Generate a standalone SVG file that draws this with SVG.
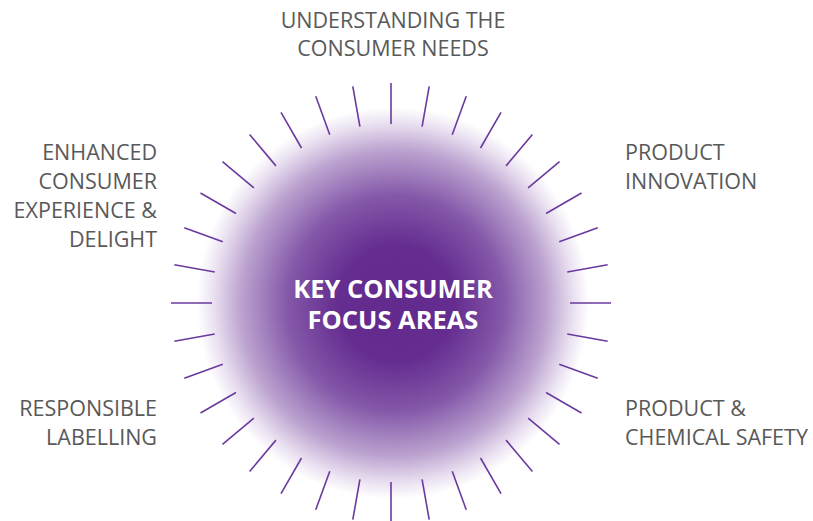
<svg xmlns="http://www.w3.org/2000/svg" xmlns:xlink="http://www.w3.org/1999/xlink" width="813" height="521" viewBox="0 0 813 521">
  <defs>
    <radialGradient id="glow" cx="393" cy="303" r="196" fx="398" fy="304" gradientUnits="userSpaceOnUse">
      <stop offset="0" stop-color="#632A8E"/>
      <stop offset="0.3" stop-color="#652D90"/>
      <stop offset="0.55" stop-color="#8458A9"/>
      <stop offset="0.78" stop-color="#BBA2CF"/>
      <stop offset="0.92" stop-color="#EAE1F1"/>
      <stop offset="1" stop-color="#FFFFFF"/>
    </radialGradient>
    <line id="ray" x1="391" y1="124" x2="391" y2="83"/>
  </defs>
  <style>
    .ray { stroke: #6A3A9E; stroke-width: 1.6; fill: none; }
    .label { font-family: "Open Sans", "Noto Sans", "Liberation Sans", sans-serif; font-size: 21.5px; fill: #595959; }
    .center { font-family: "Open Sans", "Noto Sans", "Liberation Sans", sans-serif; font-size: 25.5px; font-weight: bold; fill: #FFFFFF; }
  </style>
  <rect width="813" height="521" fill="#FFFFFF"/>
  <g id="core">
    <circle cx="393" cy="303" r="196" fill="url(#glow)"/>
    <text class="center" x="393" y="298" text-anchor="middle">KEY CONSUMER</text>
    <text class="center" x="393" y="329" text-anchor="middle">FOCUS AREAS</text>
  </g>
  <g id="connectors" class="ray">
    <use xlink:href="#ray"/>
    <use xlink:href="#ray" transform="rotate(10 391 303)"/>
    <use xlink:href="#ray" transform="rotate(20 391 303)"/>
    <use xlink:href="#ray" transform="rotate(30 391 303)"/>
    <use xlink:href="#ray" transform="rotate(40 391 303)"/>
    <use xlink:href="#ray" transform="rotate(50 391 303)"/>
    <use xlink:href="#ray" transform="rotate(60 391 303)"/>
    <use xlink:href="#ray" transform="rotate(70 391 303)"/>
    <use xlink:href="#ray" transform="rotate(80 391 303)"/>
    <use xlink:href="#ray" transform="rotate(90 391 303)"/>
    <use xlink:href="#ray" transform="rotate(100 391 303)"/>
    <use xlink:href="#ray" transform="rotate(110 391 303)"/>
    <use xlink:href="#ray" transform="rotate(120 391 303)"/>
    <use xlink:href="#ray" transform="rotate(130 391 303)"/>
    <use xlink:href="#ray" transform="rotate(140 391 303)"/>
    <use xlink:href="#ray" transform="rotate(150 391 303)"/>
    <use xlink:href="#ray" transform="rotate(160 391 303)"/>
    <use xlink:href="#ray" transform="rotate(170 391 303)"/>
    <use xlink:href="#ray" transform="rotate(180 391 303)"/>
    <use xlink:href="#ray" transform="rotate(190 391 303)"/>
    <use xlink:href="#ray" transform="rotate(200 391 303)"/>
    <use xlink:href="#ray" transform="rotate(210 391 303)"/>
    <use xlink:href="#ray" transform="rotate(220 391 303)"/>
    <use xlink:href="#ray" transform="rotate(230 391 303)"/>
    <use xlink:href="#ray" transform="rotate(240 391 303)"/>
    <use xlink:href="#ray" transform="rotate(250 391 303)"/>
    <use xlink:href="#ray" transform="rotate(260 391 303)"/>
    <use xlink:href="#ray" transform="rotate(270 391 303)"/>
    <use xlink:href="#ray" transform="rotate(280 391 303)"/>
    <use xlink:href="#ray" transform="rotate(290 391 303)"/>
    <use xlink:href="#ray" transform="rotate(300 391 303)"/>
    <use xlink:href="#ray" transform="rotate(310 391 303)"/>
    <use xlink:href="#ray" transform="rotate(320 391 303)"/>
    <use xlink:href="#ray" transform="rotate(330 391 303)"/>
    <use xlink:href="#ray" transform="rotate(340 391 303)"/>
    <use xlink:href="#ray" transform="rotate(350 391 303)"/>
  </g>
  <g id="understanding">
    <text class="label" x="393" y="28" text-anchor="middle">UNDERSTANDING THE</text>
    <text class="label" x="393" y="56" text-anchor="middle">CONSUMER NEEDS</text>
  </g>
  <g id="innovation">
    <text class="label" x="625" y="160">PRODUCT</text>
    <text class="label" x="625" y="189">INNOVATION</text>
  </g>
  <g id="safety">
    <text class="label" x="625" y="416">PRODUCT &amp;</text>
    <text class="label" x="625" y="445">CHEMICAL SAFETY</text>
  </g>
  <g id="labelling">
    <text class="label" x="157" y="416" text-anchor="end">RESPONSIBLE</text>
    <text class="label" x="157" y="445" text-anchor="end">LABELLING</text>
  </g>
  <g id="experience">
    <text class="label" x="157" y="160" text-anchor="end">ENHANCED</text>
    <text class="label" x="157" y="189" text-anchor="end">CONSUMER</text>
    <text class="label" x="157" y="218" text-anchor="end">EXPERIENCE &amp;</text>
    <text class="label" x="157" y="247" text-anchor="end">DELIGHT</text>
  </g>
</svg>
